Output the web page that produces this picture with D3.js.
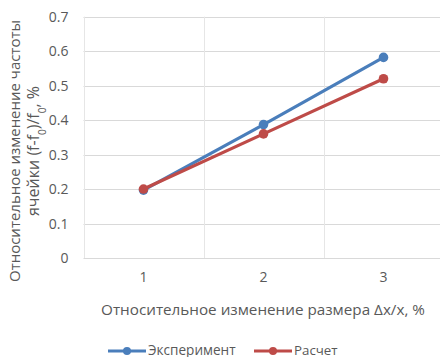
<!DOCTYPE html>
<html><head><meta charset="utf-8">
<script src="https://cdn.jsdelivr.net/npm/d3@7"></script>
<style>body{margin:0;background:#fff}svg{display:block}text{font-family:"Open Sans",sans-serif;fill:#595959}</style>
</head><body><svg id="c" width="440" height="357"></svg>
<script>
const categories = ["1","2","3"];
const experiment = [0.197, 0.387, 0.582];
const calc = [0.2, 0.36, 0.52];
const yTicks = [0,0.1,0.2,0.3,0.4,0.5,0.6,0.7];
const seriesNames = ["Эксперимент","Расчет"];
const colors = ["#4A7EBB","#BE4B48"];

const svg = d3.select("#c");
const m = {l:83.5, r:443.5, t:16.7, b:258};
const x = d3.scaleBand().domain(categories).range([m.l, m.r]);
const y = d3.scaleLinear().domain([0,0.7]).range([m.b, m.t]);

function fit(sel, w){ // scale font so text width matches w
  const n = sel.node(); const fs = parseFloat(sel.style("font-size"));
  const cur = n.getComputedTextLength ? n.getBBox().width : w;
  sel.style("font-size", (fs*w/cur).toFixed(2)+"px");
}

svg.append("g").selectAll("line").data(yTicks).join("line")
  .attr("x1", m.l).attr("x2", m.r).attr("y1", d=>Math.round(y(d))+0.5).attr("y2", d=>Math.round(y(d))+0.5)
  .attr("stroke", "#d9d9d9").attr("stroke-width",1);
const edges = categories.map(c=>x(c)).concat([m.r]);
svg.append("g").selectAll("line").data(edges).join("line")
  .attr("x1", d=>Math.round(d)+0.5).attr("x2", d=>Math.round(d)+0.5).attr("y1", m.t).attr("y2", m.b)
  .attr("stroke", "#e6e6e6").attr("stroke-width",1);

const ya = svg.append("g").attr("transform", `translate(${m.l-15},0)`)
  .call(d3.axisLeft(y).tickValues(yTicks).tickSize(0).tickPadding(0).tickFormat(d=>d===0?"0":d3.format(".1f")(d)));
ya.select(".domain").remove();
ya.selectAll("text").style("font-size","14px").attr("fill","#595959");

const xa = svg.append("g").attr("transform", `translate(0,${m.b+14})`)
  .call(d3.axisBottom(x).tickSize(0).tickPadding(0));
xa.select(".domain").remove();
xa.selectAll("text").style("font-size","14px").attr("fill","#595959");

const series = [experiment, calc];
const line = d3.line().x((d,i)=>x(categories[i])+x.bandwidth()/2).y(d=>y(d));
series.forEach((s,k)=>{
  svg.append("path").datum(s).attr("d", line).attr("fill","none")
    .attr("stroke", colors[k]).attr("stroke-width",3.2).attr("stroke-linejoin","round");
  svg.append("g").selectAll("circle").data(s).join("circle")
    .attr("cx",(d,i)=>x(categories[i])+x.bandwidth()/2).attr("cy",d=>y(d)).attr("r",4.8)
    .attr("fill", colors[k]);
});

const xt = svg.append("text").attr("x",263).attr("y",315).attr("text-anchor","middle")
  .style("font-size","15px").text("Относительное изменение размера Δx/x, %");
fit(xt, 324);

const yt1 = svg.append("text").attr("transform","translate(20,151) rotate(-90)").attr("text-anchor","middle")
  .style("font-size","14px").text("Относительное изменение частоты");
fit(yt1, 262);
const yt2 = svg.append("text").attr("transform","translate(39,151) rotate(-90)").attr("text-anchor","middle").style("font-size","14px");
yt2.append("tspan").text("ячейки (f-f");
yt2.append("tspan").attr("baseline-shift","sub").style("font-size","10px").text("0");
yt2.append("tspan").text(")/f");
yt2.append("tspan").attr("baseline-shift","sub").style("font-size","10px").text("0");
yt2.append("tspan").text(", %");
fit(yt2, 132);

const leg = [{x0:108, name:seriesNames[0], c:colors[0], w:88},{x0:254, name:seriesNames[1], c:colors[1], w:44}];
leg.forEach(L=>{
  const g = svg.append("g");
  g.append("line").attr("x1",L.x0).attr("x2",L.x0+38).attr("y1",351).attr("y2",351).attr("stroke",L.c).attr("stroke-width",3);
  g.append("circle").attr("cx",L.x0+19).attr("cy",351).attr("r",4).attr("fill",L.c);
  const t = g.append("text").attr("x",L.x0+40).attr("y",354.5).style("font-size","14px").text(L.name);
  fit(t, L.w);
});
</script></body></html>
